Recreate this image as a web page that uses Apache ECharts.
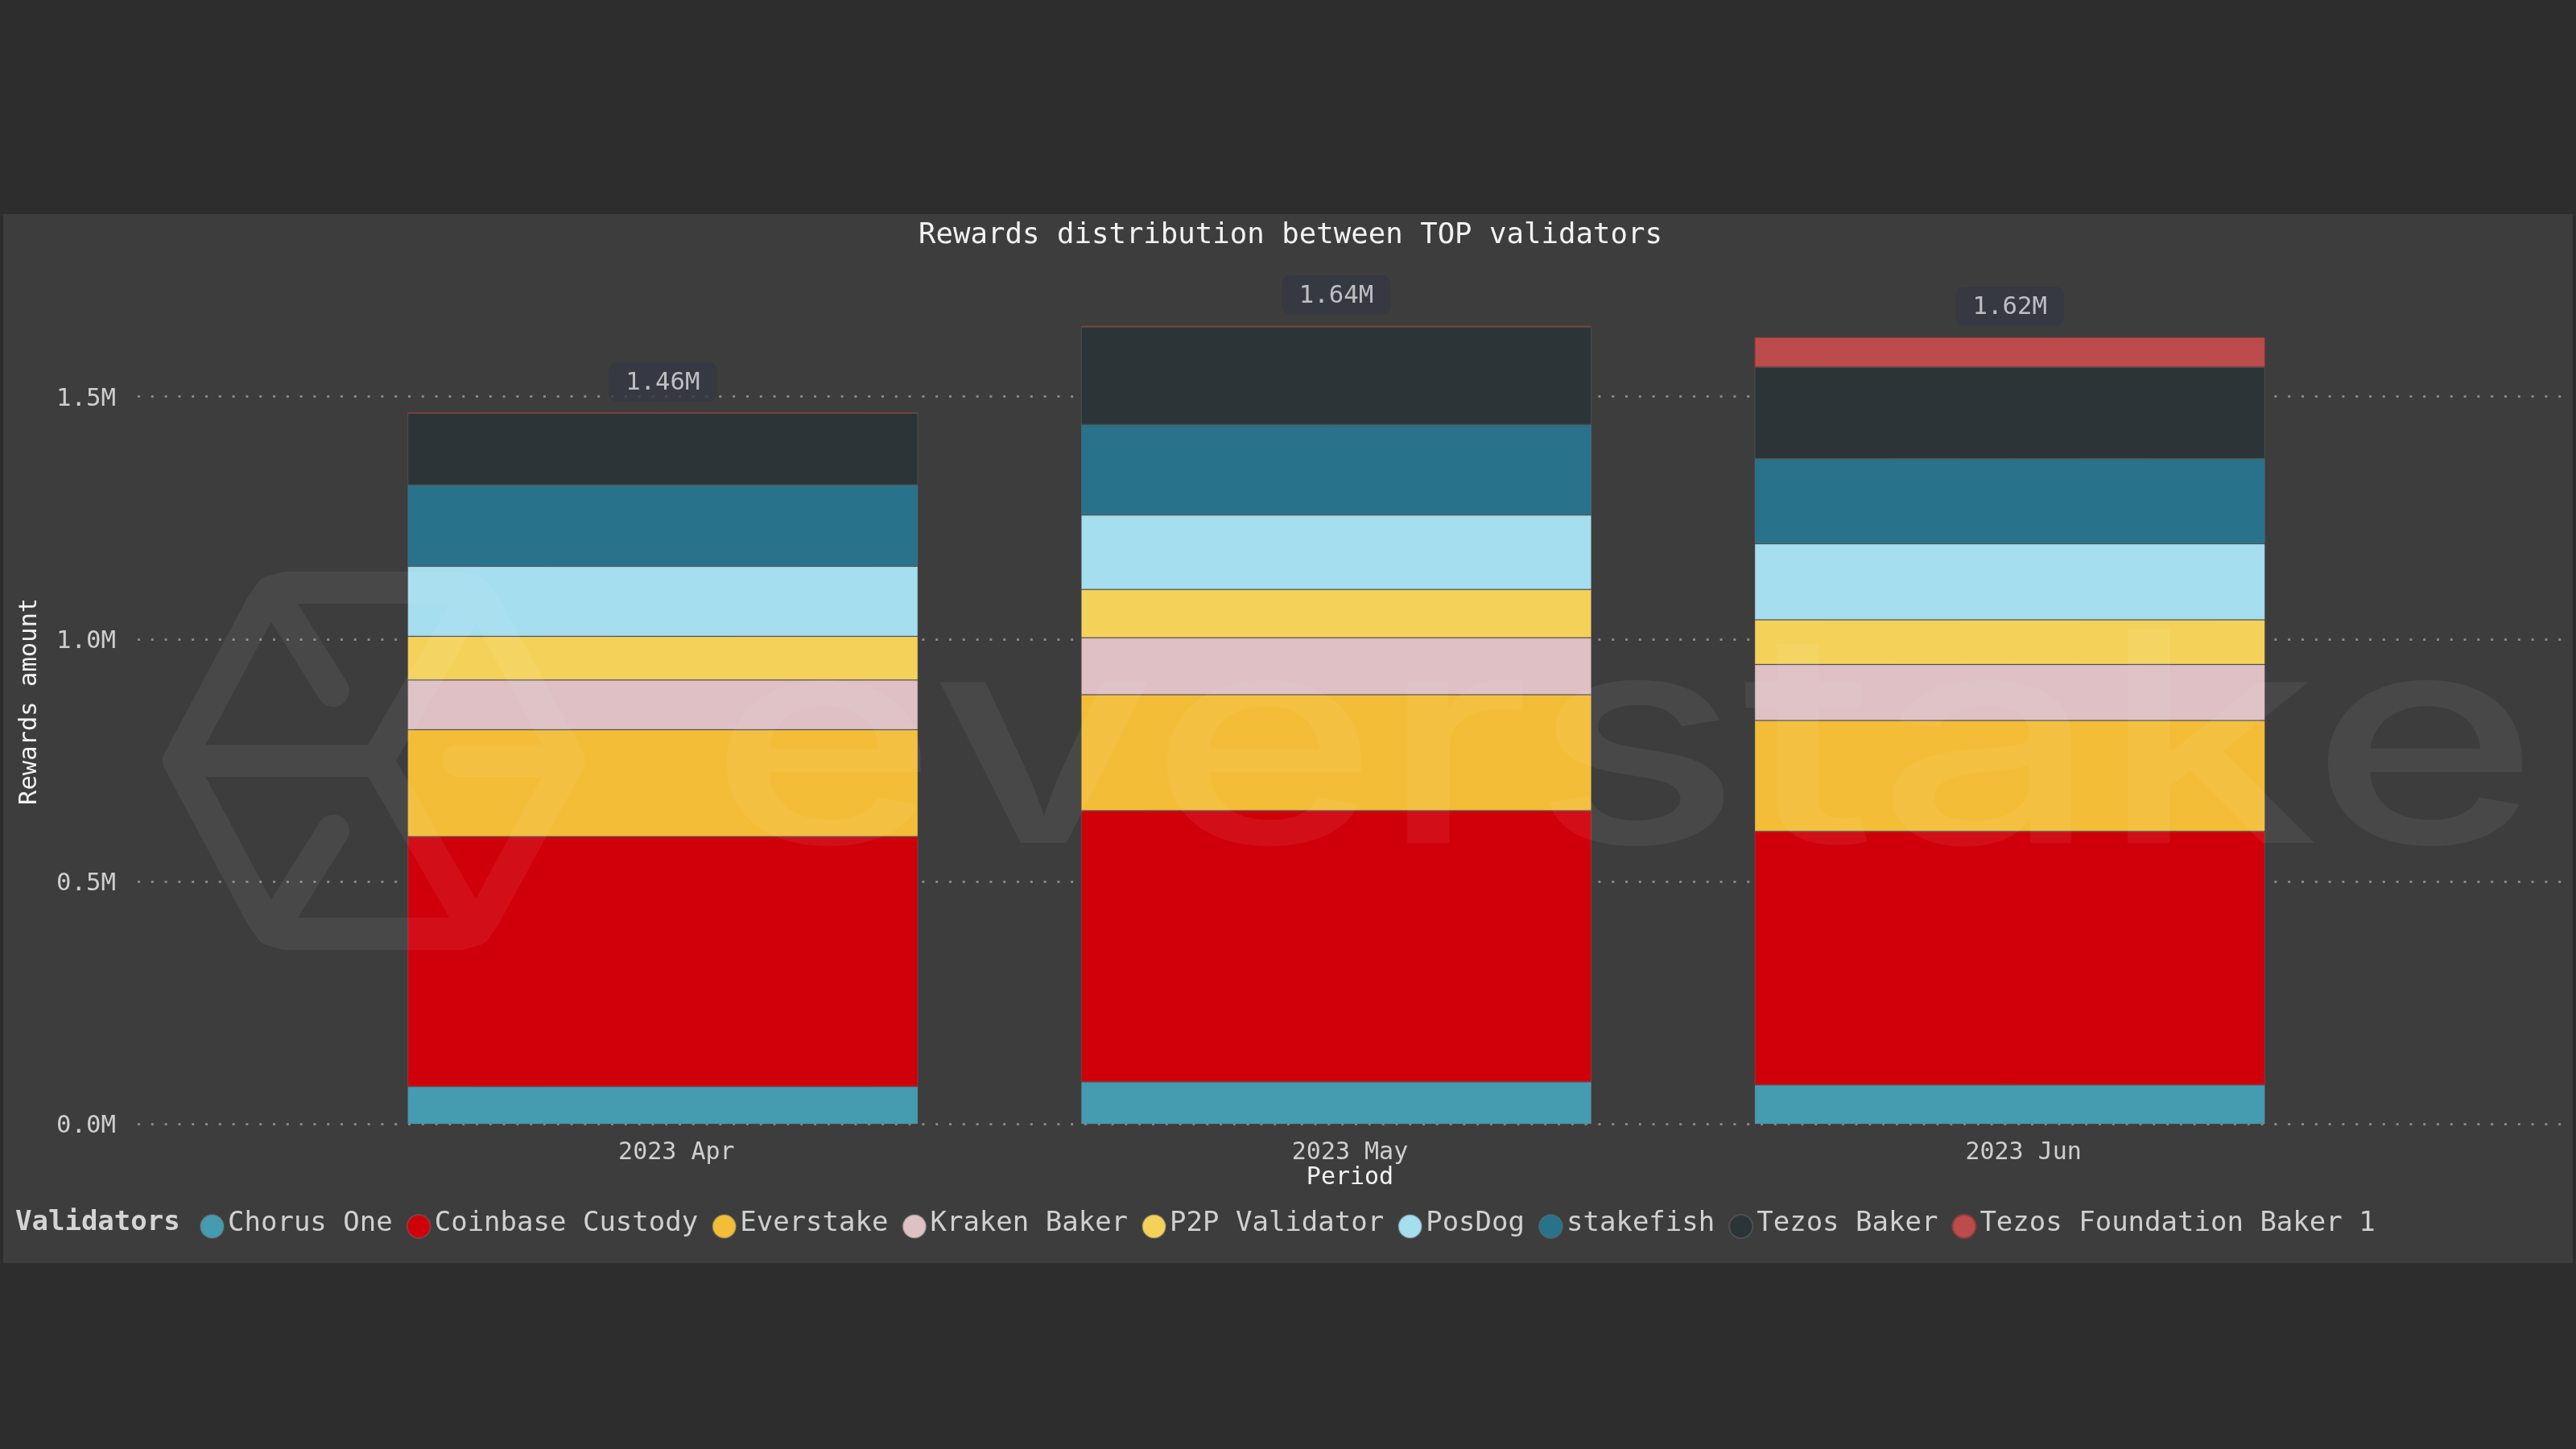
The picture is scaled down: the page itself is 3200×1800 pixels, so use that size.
<!DOCTYPE html>
<html>
<head>
<meta charset="utf-8">
<title>Rewards distribution between TOP validators</title>
<script src="https://cdn.jsdelivr.net/npm/echarts@6/dist/echarts.min.js"></script>
<style>
    html, body { margin: 0; padding: 0; background: #2d2d2d; }
    #chart { width: 3200px; height: 1800px; }
</style>
</head>
<body>
<div id="chart"></div>
<script>
// Values, in rewards units per validator
const periods = ['2023 Apr', '2023 May', '2023 Jun'];
const chorusOne = [77700, 87300, 81000];
const coinbaseCustody = [515100, 559100, 522700];
const everstake = [220500, 238900, 228500];
const krakenBaker = [102500, 117500, 115500];
const p2pValidator = [90000, 99400, 92000];
const posDog = [144100, 153500, 156800];
const stakefish = [167700, 186200, 175100];
const tezosBaker = [148600, 201800, 189200];
const tezosFoundation = [0, 2200, 61400];
const totalLabels = ['1.46M', '1.64M', '1.62M'];

const FONT = '"DejaVu Sans Mono", monospace';
const SEGMENT_BORDER = 'rgba(120,120,120,0.35)';

const layers = [
    { name: 'Chorus One', data: chorusOne, color: '#459bb0' },
    { name: 'Coinbase Custody', data: coinbaseCustody, color: '#d0000b' },
    { name: 'Everstake', data: everstake, color: '#f4bd37' },
    { name: 'Kraken Baker', data: krakenBaker, color: '#dfc0c4' },
    { name: 'P2P Validator', data: p2pValidator, color: '#f4d25a' },
    { name: 'PosDog', data: posDog, color: '#a4deef' },
    { name: 'stakefish', data: stakefish, color: '#28728b' },
    { name: 'Tezos Baker', data: tezosBaker, color: '#2b3538' },
    { name: 'Tezos Foundation Baker 1', data: tezosFoundation, color: '#bc4b4b', border: '#8c3d3d' }
];

const totals = periods.map((_, i) => layers.reduce((sum, l) => sum + l.data[i], 0));

const barSeries = layers.map(l => ({
    name: l.name,
    type: 'bar',
    stack: 'rewards',
    xAxisIndex: 0,
    yAxisIndex: 0,
    barWidth: '75.8%',
    data: l.data,
    itemStyle: { color: l.color, borderColor: l.border || SEGMENT_BORDER, borderWidth: 1 }
}));

// Watermark logo, one stroke so overlaps do not get brighter
const logoPoints = [
    [414, 858], [337, 735], [355, 730], [572, 730], [590, 735], [469, 945], [260, 945], [469, 945],
    [590, 1155], [572, 1160], [355, 1160], [337, 1155], [414, 1032], [337, 1155], [326, 1140],
    [222, 945], [326, 750], [337, 735], [355, 730], [572, 730], [590, 735], [601, 750],
    [707, 945], [570, 945], [707, 945], [601, 1140], [590, 1155]
];

const chart = echarts.init(document.getElementById('chart'));
chart.setOption({
    backgroundColor: '#2d2d2d',
    animation: false,
    title: [
        {
            text: 'Rewards distribution between TOP validators',
            left: 1598,
            top: 270,
            textAlign: 'center',
            textStyle: { fontFamily: FONT, fontSize: 35.7, fontWeight: 'normal', color: '#f2f2f2' }
        },
        {
            text: 'Validators',
            left: 14,
            top: 1497,
            textStyle: { fontFamily: FONT, fontSize: 34, fontWeight: 'bold', color: '#d4d4d4' }
        }
    ],
    legend: {
        left: 243,
        top: 1498,
        itemWidth: 29,
        itemHeight: 29,
        itemGap: 17,
        icon: 'circle',
        data: layers.map(l => l.name),
        formatter: name => '{t|' + name + '}',
        textStyle: {
            rich: { t: { fontFamily: FONT, fontSize: 34, color: '#d0d0d0', padding: [0, 0, 7, 0] } }
        }
    },
    grid: [
        // bars
        { left: 405, width: 2510, top: 346.2, bottom: 403.5 },
        // wide grid carrying the y labels and dotted lines
        { left: 171, right: 15, top: 346.2, bottom: 403.5 }
    ],
    xAxis: [
        {
            type: 'category',
            gridIndex: 0,
            data: periods,
            name: 'Period',
            nameLocation: 'middle',
            nameMoveOverlap: false,
            nameGap: 52,
            nameTextStyle: { fontFamily: FONT, fontSize: 30, color: '#f2f2f2', padding: [0, 0, 0, 34] },
            axisLine: { show: false },
            axisTick: { show: false },
            axisLabel: { fontFamily: FONT, fontSize: 30, color: '#cfcfcf', margin: 21, padding: [0, 0, 0, 34] }
        },
        { type: 'value', gridIndex: 1, show: false, min: 0, max: 1 }
    ],
    yAxis: [
        { type: 'value', gridIndex: 0, show: false, min: 0, max: 1743000, interval: 500000 },
        {
            type: 'value',
            gridIndex: 1,
            min: 0,
            max: 1743000,
            interval: 500000,
            name: 'Rewards amount',
            nameLocation: 'middle',
            nameGap: 118,
            nameTextStyle: { fontFamily: FONT, fontSize: 30.5, color: '#f2f2f2' },
            axisLine: { show: false },
            axisTick: { show: false },
            axisLabel: {
                margin: 27,
                showMaxLabel: false,
                formatter: v => '{t|' + (v / 1e6).toFixed(1) + 'M}',
                rich: { t: { fontFamily: FONT, fontSize: 30.7, color: '#cfcfcf', padding: [6, 0, 0, 0] } }
            },
            splitLine: {
                show: true,
                showMaxLine: false,
                lineStyle: { type: [3, 13.8], width: 3, color: '#85868c' }
            }
        }
    ],
    series: barSeries.concat([{
        // carries the total labels above the stacks
        type: 'scatter',
        xAxisIndex: 0,
        yAxisIndex: 0,
        symbolSize: 1,
        itemStyle: { color: 'transparent' },
        data: totals,
        z: 5,
        label: {
            show: true,
            position: 'top',
            distance: 14,
            formatter: p => totalLabels[p.dataIndex],
            fontFamily: FONT,
            fontSize: 30.7,
            color: '#e0e0e0',
            backgroundColor: '#353744',
            borderRadius: 10,
            padding: [10, 21, 7, 21]
        }
    }]),
    graphic: [
        // chart panel
        { type: 'rect', silent: true, z: -10, shape: { x: 4, y: 266, width: 3192, height: 1303 }, style: { fill: '#3d3d3d' } },
        {
            type: 'polyline',
            silent: true,
            z: 100,
            shape: { points: logoPoints },
            style: { fill: null, stroke: 'rgba(255,255,255,0.057)', lineWidth: 40, lineCap: 'round', lineJoin: 'round' }
        },
        // watermark wordmark
        {
            type: 'text',
            silent: true,
            z: 100,
            x: 880,
            y: 1120,
            scaleX: 1.33,
            style: {
                text: 'everstake',
                fontFamily: 'Inter, sans-serif',
                fontWeight: 500,
                fontSize: 366,
                fill: 'rgba(255,255,255,0.057)',
                verticalAlign: 'bottom'
            }
        }
    ]
});

window.addEventListener('resize', () => {
    chart.resize();
});
</script>
</body>
</html>
